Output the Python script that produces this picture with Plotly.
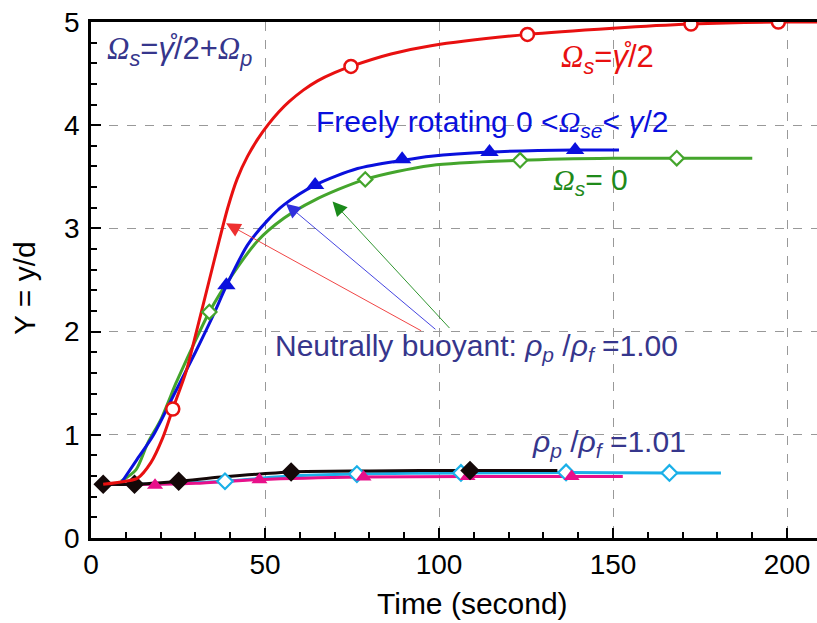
import plotly.graph_objects as go

# ---- Neutrally buoyant particles (rho_p/rho_f = 1.00): lateral position Y vs time ----
# Omega_s = gamma/2 (red)
red_t = [3.5, 10, 13.4, 17.2, 20.6, 23.5, 27.3, 29.7, 34, 36.9, 39.3, 42, 45, 48, 51, 54,
         57, 61, 65.1, 70, 74.7, 86.2, 97.7, 125.4, 150, 172.4, 197.5, 209]
red_y = [0.52, 0.55, 0.58, 0.73, 0.97, 1.25, 1.61, 1.92, 2.5, 2.89, 3.2, 3.48, 3.7, 3.87, 4.01,
         4.13, 4.23, 4.34, 4.43, 4.51, 4.57, 4.69, 4.77, 4.88, 4.94, 4.98, 5.0, 5.0]
red_mt = [23.5, 74.7, 125.4, 172.4, 197.5]
red_my = [1.25, 4.57, 4.88, 4.98, 5.0]

# Freely rotating (blue)
blue_t = [9, 13, 18, 24, 30, 35, 39, 45, 50.8, 55.5, 64.4, 76.6, 89.6, 97.7, 114.5, 139.1, 151.7]
blue_y = [0.55, 0.75, 1.0, 1.4, 1.8, 2.15, 2.45, 2.84, 3.08, 3.23, 3.42, 3.58, 3.66, 3.70,
          3.74, 3.76, 3.76]
blue_mt = [38.9, 64.4, 89.4, 114.5, 139.1]
blue_my = [2.45, 3.42, 3.67, 3.74, 3.76]

# Omega_s = 0 (green)
green_t = [8.6, 12.9, 16.3, 20.1, 24.4, 26, 29, 34, 40.2, 47.9, 55.5, 64, 78.8, 97.7,
           123.3, 150, 168.3, 190]
green_y = [0.55, 0.66, 0.92, 1.15, 1.5, 1.62, 1.84, 2.19, 2.53, 2.88, 3.1, 3.27, 3.475, 3.61,
           3.66, 3.68, 3.68, 3.68]
green_mt = [34, 78.8, 123.3, 168.3]
green_my = [2.19, 3.475, 3.66, 3.68]

# ---- Slightly heavy particles (rho_p/rho_f = 1.01) ----
black_t = [3.5, 12.5, 25.2, 37.4, 57.5, 80, 108.9, 134]
black_y = [0.52, 0.52, 0.55, 0.59, 0.64, 0.65, 0.655, 0.655]
black_mt = [3.5, 12.5, 25.2, 57.5, 108.9]
black_my = [0.52, 0.52, 0.55, 0.64, 0.655]

cyan_t = [3.5, 12.5, 25, 38.5, 57, 76.4, 106.3, 136.5, 166.2, 181]
cyan_y = [0.52, 0.52, 0.53, 0.55, 0.6, 0.62, 0.63, 0.635, 0.63, 0.63]
cyan_mt = [38.5, 76.4, 106.3, 136.5, 166.2]
cyan_my = [0.55, 0.62, 0.63, 0.635, 0.63]

mag_t = [3.5, 18.4, 30, 48.4, 78.3, 108.2, 138.1, 152.8]
mag_y = [0.52, 0.52, 0.53, 0.565, 0.59, 0.596, 0.596, 0.596]
mag_mt = [18.4, 48.4, 78.3, 108.2, 138.1]
mag_my = [0.51, 0.565, 0.59, 0.596, 0.596]

# Arrows from the "Neutrally buoyant" label to the three curves: (tail_t, tail_y, tip_t, tip_y)
arrows = [
    (95.3, 2.0, 38.8, 3.05, "#ee3030"),
    (99.4, 2.01, 56.0, 3.24, "#3030dd"),
    (103.4, 2.02, 69.4, 3.26, "#1a8a1a"),
]

RED = "#e81010"
BLUE = "#0a10dd"
GREEN = "#44a52c"
GREEN_TXT = "#1f8a1a"
INK = "#36368c"
CYAN = "#1ab0e8"
MAG = "#e8108a"
BLACK = "#140808"

fig = go.Figure()


def curve(t, y, color, width=3):
    fig.add_trace(go.Scatter(x=t, y=y, mode="lines",
                             line=dict(color=color, width=width, shape="spline", smoothing=0.8),
                             hoverinfo="skip"))


def marks(t, y, symbol, color, fill, size, lw=2.2):
    fig.add_trace(go.Scatter(x=t, y=y, mode="markers",
                             marker=dict(symbol=symbol, size=size, color=fill,
                                         line=dict(color=color, width=lw)),
                             hoverinfo="skip"))


# lower group
curve(cyan_t, cyan_y, CYAN)
curve(mag_t, mag_y, MAG)
curve(black_t, black_y, BLACK)
marks(cyan_mt, cyan_my, "diamond", CYAN, "white", 12)
marks(mag_mt, mag_my, "triangle-up", MAG, MAG, 14, 0)
marks(black_mt, black_my, "diamond", BLACK, BLACK, 15, 0)

# upper group
curve(green_t, green_y, GREEN)
curve(blue_t, blue_y, BLUE)
curve(red_t, red_y, RED)
marks(green_mt, green_my, "diamond", GREEN, "white", 11)
marks(blue_mt, blue_my, "triangle-up", BLUE, BLUE, 16, 0)
marks(red_mt, red_my, "circle", RED, "white", 13, 2.5)

ann = []
for t0, y0, t1, y1, col in arrows:
    ann.append(dict(x=t1, y=y1, ax=t0, ay=y0, xref="x", yref="y", axref="x", ayref="y",
                    text="", showarrow=True, arrowhead=2, arrowsize=3.2, arrowwidth=0.9,
                    arrowcolor=col))

F = "Liberation Sans, Arial, sans-serif"
OM = '<span style="font-family:Liberation Serif"><i>Ω</i></span>'


def label(t, y, text, color, size=30):
    ann.append(dict(x=t, y=y, xref="x", yref="y", text=text, showarrow=False,
                    xanchor="left", yanchor="middle",
                    font=dict(family=F, size=size, color=color)))


label(4.0, 4.72, OM + "<sub><i>s</i></sub>=<i>γ\u030a</i>/2+" + OM + "<sub><i>p</i></sub>", INK, 31)
label(134.6, 4.64, OM + "<sub><i>s</i></sub>=<i>γ\u030a</i>/2", RED, 31)
label(64.0, 4.02, "Freely rotating 0 &lt;" + OM + "<sub><i>se</i></sub>&lt; <i>γ</i>/2", BLUE, 30)
label(132.2, 3.45, OM + "<sub><i>s</i></sub>= 0", GREEN_TXT, 30)
label(52.3, 1.85, "Neutrally buoyant: <i>ρ</i><sub><i>p</i></sub> /<i>ρ</i><sub><i>f</i></sub> =1.00", INK, 30)
label(126.0, 0.92, "<i>ρ</i><sub><i>p</i></sub> /<i>ρ</i><sub><i>f</i></sub> =1.01", INK, 30)

W, H = 817, 623
ML, MR, MT, MB = 91, 0, 22, 85

# axis titles placed by pixel position, converted to paper fractions
def px_to_paper(px, py):
    return (px - ML) / (W - ML - MR), (H - MB - py) / (H - MT - MB)

tx, ty = px_to_paper(472, 603)
ann.append(dict(x=tx, y=ty, xref="paper", yref="paper", text="Time (second)", showarrow=False,
                xanchor="center", yanchor="middle",
                font=dict(family=F, size=30, color="black")))
yx, yy = px_to_paper(24, 288)
ann.append(dict(x=yx, y=yy, xref="paper", yref="paper", text="Y = y/d", showarrow=False,
                xanchor="center", yanchor="middle", textangle=-90,
                font=dict(family=F, size=30, color="black")))

axis_common = dict(
    showline=True, linecolor="black", linewidth=2.5,
    ticks="inside", ticklen=10, tickwidth=2, tickcolor="black",
    showgrid=True, gridcolor="#999999", griddash="dash", gridwidth=1.2,
    zeroline=False,
    tickfont=dict(family=F, size=28, color="black"),
)

fig.update_layout(
    width=W, height=H,
    margin=dict(l=ML, r=MR, t=MT, b=MB),
    paper_bgcolor="white", plot_bgcolor="white",
    showlegend=False,
    annotations=ann,
    xaxis=dict(range=[0, 208.6], tickvals=[0, 50, 100, 150, 200], mirror=True,
               minor=dict(ticks="inside", dtick=10, ticklen=6, tickwidth=1.5, tickcolor="black",
                          showgrid=False),
               ticklabelstandoff=0, **axis_common),
    yaxis=dict(range=[0, 5], tickvals=[0, 1, 2, 3, 4, 5], mirror=False,
               minor=dict(ticks="inside", dtick=0.2, ticklen=6, tickwidth=1.5, tickcolor="black",
                          showgrid=False),
               ticklabelstandoff=3, **axis_common),
)

fig.write_html("out.html")
